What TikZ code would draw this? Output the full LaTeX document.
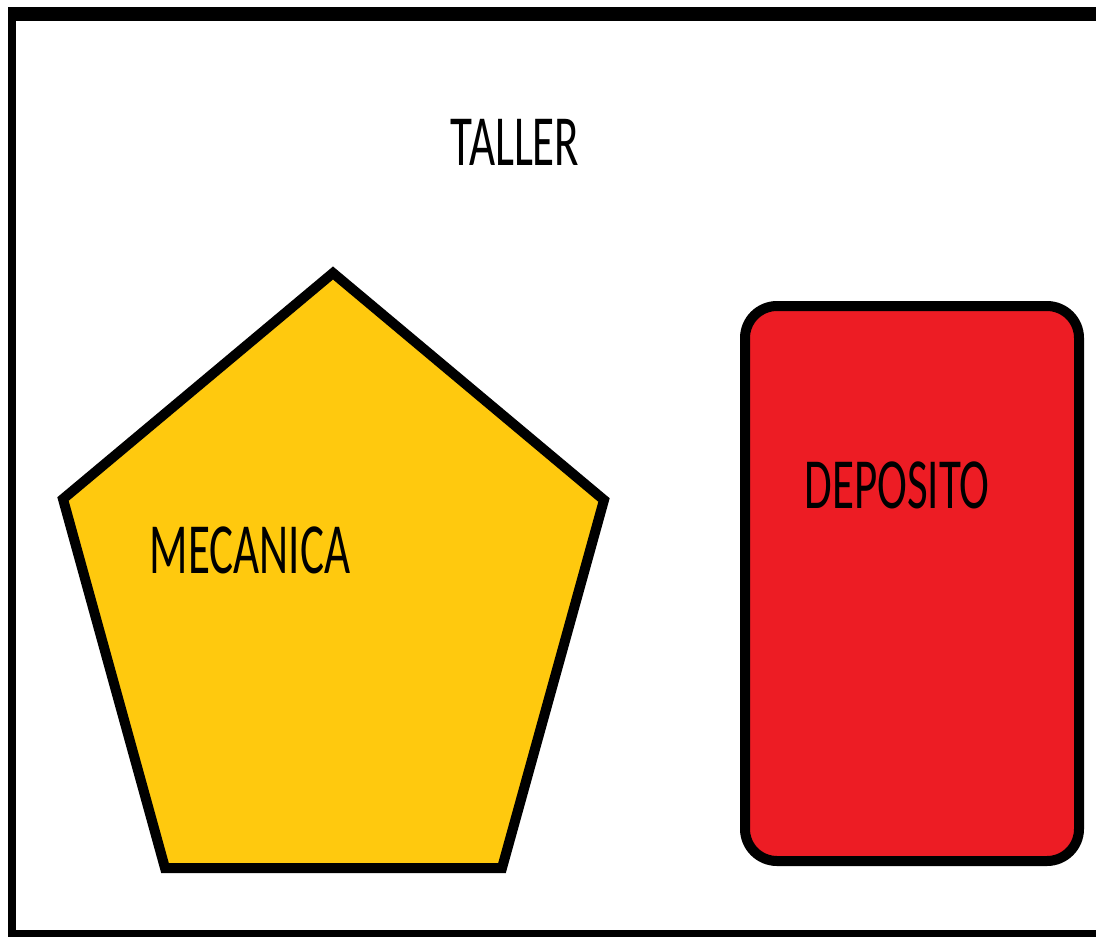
\documentclass[tikz,border=0pt]{standalone}
\usepackage{fontspec}
\setmainfont{Carlito}
\definecolor{paintyellow}{RGB}{255,201,14}
\definecolor{paintred}{RGB}{237,28,36}
\begin{document}
\begin{tikzpicture}[x=1pt,y=-1pt,
  framebar/.style={fill=black,draw=none},
  lbl/.style={font=\fontsize{45}{50}\selectfont,inner sep=0pt,text=black}]
\useasboundingbox (0,0) rectangle (1096,937);
% frame
\fill[framebar] (8,7) rectangle (1096,21);
\fill[framebar] (8,7) rectangle (16,937);
\fill[framebar] (8,930) rectangle (1096,937);
% pentagon
\draw[fill=paintyellow,line width=10pt,line join=miter]
  (333,273) -- (604,500) -- (502,868) -- (165,868) -- (63,499) -- cycle;
% rounded rectangle
\draw[fill=paintred,line width=10pt,rounded corners=32pt]
  (745,306) rectangle (1079,861);
% labels
\node[lbl] (taller) at (515,142) {\scalebox{1}[1.6]{TALLER}};
\node[lbl] (mecanica) at (250,550) {\scalebox{1}[1.6]{MECANICA}};
\node[lbl] (deposito) at (897,485) {\scalebox{1}[1.6]{DEPOSITO}};
\end{tikzpicture}
\end{document}
